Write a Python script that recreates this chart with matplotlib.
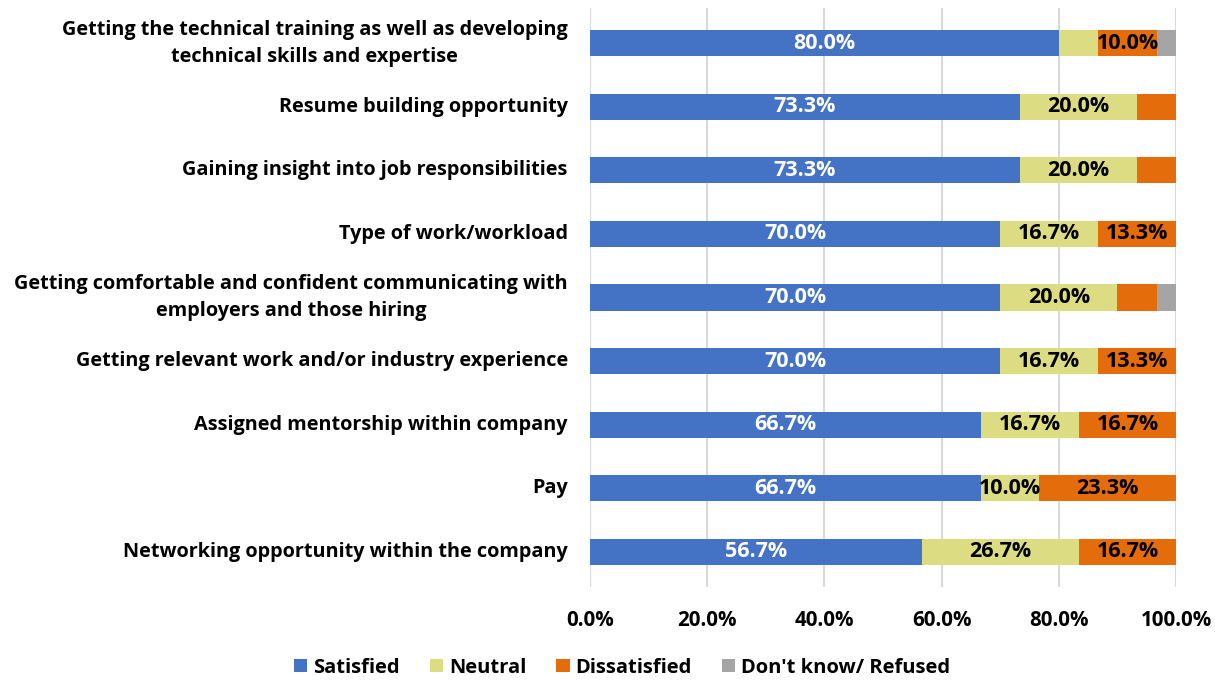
import matplotlib
matplotlib.use('Agg')
import matplotlib.pyplot as plt
import numpy as np

plt.rcParams['font.family'] = ['Open Sans', 'DejaVu Sans']
plt.rcParams['font.weight'] = 'bold'

categories = [
    'Getting the technical training as well as developing\ntechnical skills and expertise',
    'Resume building opportunity',
    'Gaining insight into job responsibilities',
    'Type of work/workload',
    'Getting comfortable and confident communicating with\nemployers and those hiring',
    'Getting relevant work and/or industry experience',
    'Assigned mentorship within company',
    'Pay',
    'Networking opportunity within the company',
]
satisfied = [80.0, 73.3, 73.3, 70.0, 70.0, 70.0, 66.7, 66.7, 56.7]
neutral = [6.7, 20.0, 20.0, 16.7, 20.0, 16.7, 16.7, 10.0, 26.7]
dissatisfied = [10.0, 6.7, 6.7, 13.3, 6.7, 13.3, 16.7, 23.3, 16.7]
dont_know = [3.3, 0, 0, 0, 3.3, 0, 0, 0, 0]

series = [
    ('Satisfied', satisfied, '#4472C4', 'white'),
    ('Neutral', neutral, '#DCDC82', 'black'),
    ('Dissatisfied', dissatisfied, '#E46C0A', 'black'),
    ("Don't know/ Refused", dont_know, '#A5A5A5', 'black'),
]

FS = 14.3

fig = plt.figure(figsize=(12.15, 6.8), dpi=100)
ax = fig.add_axes([0.4856, 0.137, 0.4823, 0.851])

y = np.arange(len(categories))
left = np.zeros(len(categories))
for name, vals, col, tcol in series:
    vals = np.array(vals)
    ax.barh(y, vals, left=left, height=0.41, color=col, label=name, zorder=3)
    for yi, l, v in zip(y, left, vals):
        if v >= 10:
            ax.text(l + v / 2, yi, f'{v:.1f}%', ha='center', va='center',
                    color=tcol, fontsize=15.5, fontweight='bold', zorder=4)
    left += vals

ax.set_xlim(0, 100)
ax.set_ylim(len(categories) - 0.45, -0.55)
ax.set_yticks(y)
ax.set_yticklabels(categories, fontsize=FS, fontweight='bold',
                   multialignment='center', linespacing=1.45, va='center')
ax.set_xticks(np.arange(0, 101, 20))
ax.set_xticklabels([f'{t:.1f}%' for t in range(0, 101, 20)], fontsize=14.8, fontweight='bold')
ax.tick_params(axis='y', length=0, pad=16)
ax.tick_params(axis='x', length=0, pad=17)
ax.xaxis.grid(True, color='#D9D9D9', linewidth=1.5, zorder=0)
for s in ax.spines.values():
    s.set_visible(False)

handles, labels = ax.get_legend_handles_labels()
fig.legend(handles, labels, loc='center', bbox_to_anchor=(0.512, 0.018),
           ncol=4, frameon=False, fontsize=14.5, handlelength=0.65, handleheight=0.65,
           columnspacing=1.5, handletextpad=0.3)

fig.savefig('out.png', dpi=100)
